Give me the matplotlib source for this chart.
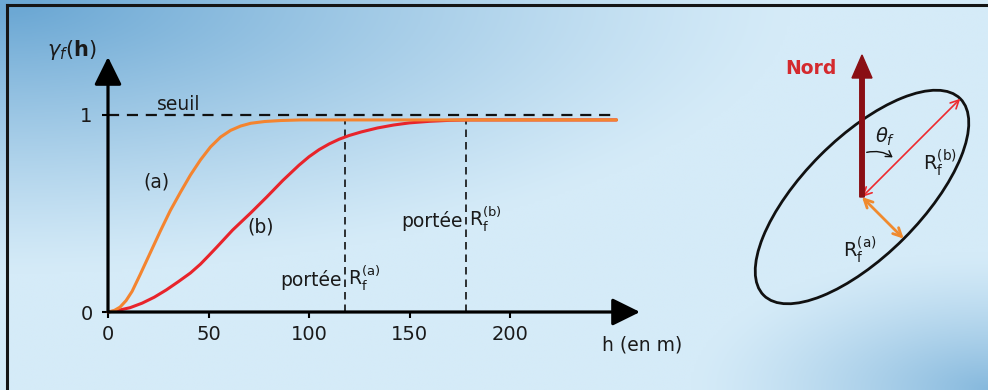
import numpy as np
import matplotlib
matplotlib.use('Agg')
import matplotlib.pyplot as plt
from matplotlib.patches import Ellipse, FancyArrowPatch

plt.rcParams['font.family'] = 'DejaVu Sans'
plt.rcParams['mathtext.fontset'] = 'dejavusans'

# ---- data ----
# curve (a): short range, orange
h_a = [0, 3, 6, 9, 12, 16, 21, 26, 31, 36, 41, 46, 51, 56, 61, 66, 71,
       78, 86, 96, 253]
g_a = [0, 0.007, 0.025, 0.058, 0.105, 0.19, 0.30, 0.41, 0.515, 0.607,
       0.695, 0.772, 0.838, 0.888, 0.922, 0.944, 0.958, 0.967, 0.972,
       0.975, 0.975]
# curve (b): long range, red
h_b = [0, 5, 11, 17, 23, 29, 35, 41, 46, 50, 54, 62, 71, 79, 87, 95, 100,
       105, 110, 115, 120, 126, 134, 142, 150, 160, 170, 180, 253]
g_b = [0, 0.008, 0.022, 0.045, 0.075, 0.112, 0.154, 0.198, 0.243, 0.285,
       0.328, 0.416, 0.503, 0.584, 0.668, 0.745, 0.788, 0.824, 0.853,
       0.877, 0.896, 0.914, 0.934, 0.949, 0.96, 0.968, 0.973, 0.975, 0.975]
sill = 1.0
plateau = 0.975
range_a = 118   # portee R_f^(a)
range_b = 178   # portee R_f^(b)
h_end = 253
xticks = [0, 50, 100, 150, 200]
yticks = [0, 1]

# anisotropy ellipse (diagram units)
semi_major = 139
semi_minor = 59
theta_deg = 45

# ---- figure ----
W, H = 988, 390
fig = plt.figure(figsize=(W / 100, H / 100), dpi=100)

# background gradient: darker top-left and bottom-right corners
bg = fig.add_axes([0, 0, 1, 1])
u, v = np.meshgrid(np.linspace(0, 1, 400), np.linspace(0, 1, 160))
d1 = np.sqrt((u / 0.8) ** 2 + (v / 0.7) ** 2)
w1 = np.clip(1 - d1, 0, 1) ** 1.2 * 1.05
d2 = np.sqrt(((1 - u) / 0.3) ** 2 + ((1 - v) / 0.35) ** 2)
w2 = np.clip(1 - d2, 0, 1) ** 1.3 * 0.75
w = np.clip(np.maximum(w1, w2), 0, 1)[..., None]
light = np.array([0xd5, 0xeb, 0xf8]) / 255
dark = np.array([0x6c, 0xa8, 0xd4]) / 255
img = light * (1 - w) + dark * w
bg.imshow(img, extent=[0, 1, 0, 1], aspect='auto', origin='upper', zorder=0)
bg.set_xlim(0, 1)
bg.set_ylim(0, 1)
bg.axis('off')
bg.plot([7 / W, 7 / W], [0, 1 - 5 / H], color='#151515', lw=2.2)
bg.plot([7 / W, 1], [1 - 5 / H, 1 - 5 / H], color='#151515', lw=2.2)

# ---- variogram chart ----
sx, sy = 2.01, 197.0          # px per unit
x0, y0 = 108, 312             # origin in pixels (from top)
xmax, ymax = (640 - x0) / sx, (y0 - 57) / sy
ax = fig.add_axes([x0 / W, (H - y0) / H, (640 - x0) / W, (y0 - 57) / H])
ax.set_xlim(0, xmax)
ax.set_ylim(0, ymax)
ax.patch.set_alpha(0)
for s in ax.spines.values():
    s.set_visible(False)

ax.plot([0, h_end], [sill, sill], color='#111111', lw=1.6,
        dashes=(5, 3.5), zorder=2)
ax.plot([range_a, range_a], [0, plateau], color='#111111', lw=1.2,
        dashes=(4.5, 3), zorder=2)
ax.plot([range_b, range_b], [0, plateau], color='#111111', lw=1.2,
        dashes=(4.5, 3), zorder=2)
ax.plot(h_b, g_b, color='#e8242b', lw=2.2, zorder=3, clip_on=False,
        solid_capstyle='round', solid_joinstyle='round')
ax.plot(h_a, g_a, color='#f4842f', lw=2.2, zorder=4, clip_on=False,
        solid_capstyle='round', solid_joinstyle='round')

arrow_kw = dict(arrowstyle='-|>,head_length=0.85,head_width=0.42',
                mutation_scale=20, color='black', lw=2.3,
                shrinkA=0, shrinkB=0)
ax.annotate('', xy=(xmax, 0), xytext=(0, 0), arrowprops=arrow_kw,
            annotation_clip=False, zorder=5)
ax.annotate('', xy=(0, ymax), xytext=(0, 0), arrowprops=arrow_kw,
            annotation_clip=False, zorder=5)

ax.set_xticks(xticks)
ax.set_xticklabels([str(t) for t in xticks])
ax.set_yticks(yticks)
ax.set_yticklabels([str(t) for t in yticks])
ax.tick_params(axis='x', direction='out', length=4, width=1.5, pad=5,
               labelsize=14, labelcolor='#1a1a1a')
ax.tick_params(axis='y', direction='out', length=4, width=1.5, pad=7,
               labelsize=14, labelcolor='#1a1a1a')

txt = dict(color='#1a1a1a', fontsize=13.5)
ax.text(-18, 1.33, r'$\gamma_f(\mathbf{h})$', ha='center', va='center',
        fontsize=15, color='#1a1a1a', clip_on=False)
ax.text(35, 1.055, 'seuil', ha='center', va='center', **txt)
ax.text(24, 0.66, '(a)', ha='center', va='center', **txt)
ax.text(76, 0.43, '(b)', ha='center', va='center', **txt)
ax.text(range_a - 1.5, 0.16, 'portée', ha='right', va='center', **txt)
ax.text(range_a + 1.5, 0.17, r'$\mathrm{R}_\mathrm{f}^{\mathrm{(a)}}$',
        ha='left', va='center', **txt)
ax.text(range_b - 1.5, 0.46, 'portée', ha='right', va='center', **txt)
ax.text(range_b + 1.5, 0.47, r'$\mathrm{R}_\mathrm{f}^{\mathrm{(b)}}$',
        ha='left', va='center', **txt)
ax.text(xmax + 1, -0.17, 'h (en m)', ha='center', va='center', **txt)

# ---- anisotropy diagram (1 unit = 1 px) ----
ax2 = fig.add_axes([700 / W, (H - 330) / H, 288 / W, 300 / H])
ax2.set_xlim(0, 288)
ax2.set_ylim(0, 300)
ax2.axis('off')
cx, cy = 162, 133
ax2.add_patch(Ellipse((cx, cy), 2 * semi_major, 2 * semi_minor,
                      angle=theta_deg, fill=False, ec='#111111', lw=2.0))
t = np.deg2rad(theta_deg)
ax2.add_patch(FancyArrowPatch((cx, cy),
                              (cx + semi_major * np.cos(t), cy + semi_major * np.sin(t)),
                              arrowstyle='<->,head_length=6,head_width=3',
                              color='#ee2a2e', lw=1.2, shrinkA=0, shrinkB=0))
ax2.add_patch(FancyArrowPatch((cx, cy),
                              (cx + semi_minor * np.sin(t), cy - semi_minor * np.cos(t)),
                              arrowstyle='<->,head_length=6,head_width=3',
                              color='#f08a2e', lw=2.0, shrinkA=0, shrinkB=0))
ax2.arrow(cx, cy, 0, 142, width=4.5, head_width=20, head_length=23,
          length_includes_head=True, color='#8a0f14', zorder=4)
ax2.add_patch(FancyArrowPatch((cx + 2, 177), (cx + 33, 171),
                              connectionstyle='arc3,rad=-0.25',
                              arrowstyle='->,head_length=4,head_width=2.5',
                              color='#111111', lw=1.0))
ax2.text(111, 262, 'Nord', ha='center', va='center', fontsize=13.5,
         fontweight='bold', color='#d42a2e')
ax2.text(185, 193, r'$\theta_f$', ha='center', va='center', fontsize=14,
         color='#1a1a1a')
ax2.text(240, 167, r'$\mathrm{R}_\mathrm{f}^{\mathrm{(b)}}$', ha='center',
         va='center', fontsize=14, color='#1a1a1a')
ax2.text(160, 80, r'$\mathrm{R}_\mathrm{f}^{\mathrm{(a)}}$', ha='center',
         va='center', fontsize=14, color='#1a1a1a')

fig.savefig('out.png', dpi=100)
